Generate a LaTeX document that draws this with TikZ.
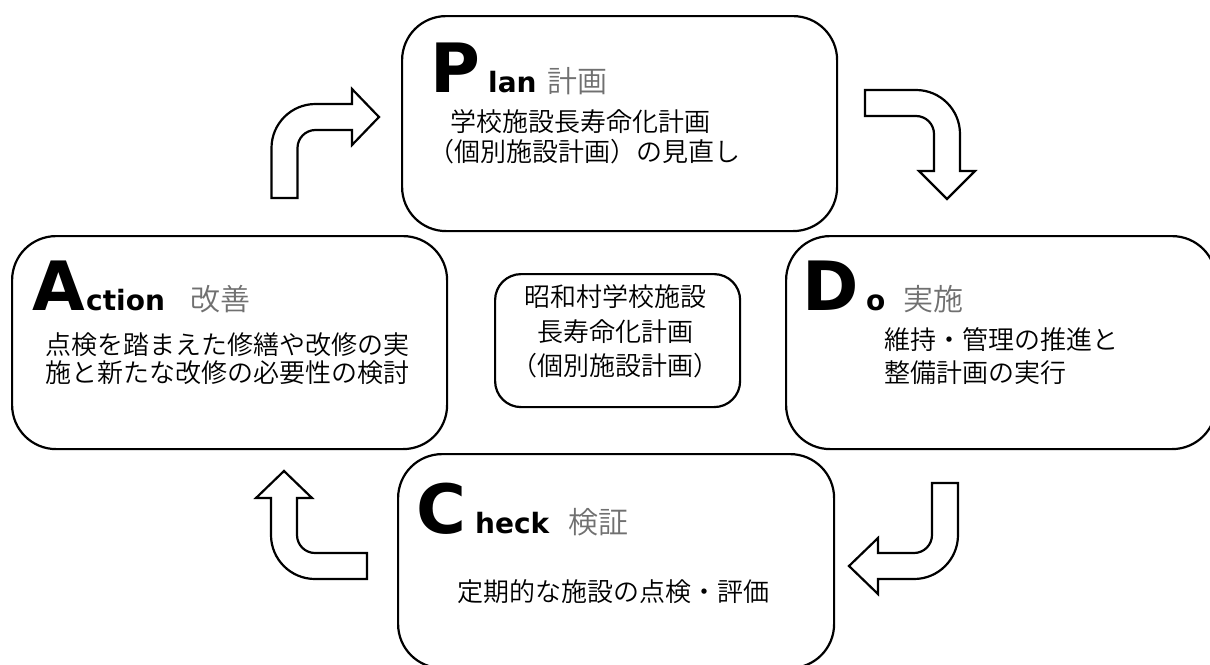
\documentclass[tikz,border=0pt]{standalone}
\usepackage{fontspec}
\newfontfamily\jp{Noto Sans CJK JP}[UprightFont=* DemiLight]
\newfontfamily\lat{DejaVu Sans}
\definecolor{headgray}{HTML}{707070}
\begin{document}
\begin{tikzpicture}[x=1pt,y=-1pt,
  box/.style={draw, line width=2.2pt, rounded corners=44pt, anchor=north west, inner sep=0},
  cbox/.style={draw, line width=2.2pt, rounded corners=26pt, anchor=north west, inner sep=0},
  body/.style={font=\jp\fontsize{26}{26}\selectfont, inner sep=0},
  big/.style={font=\lat\bfseries\fontsize{68}{68}\selectfont, inner sep=0, anchor=base west},
  sub/.style={font=\lat\bfseries\fontsize{28}{28}\selectfont, inner sep=0, anchor=base west},
  ghead/.style={font=\jp\fontsize{30}{30}\selectfont, text=headgray, inner sep=0, anchor=base west},
  arr/.style={draw, line width=2.2pt, fill=white, line join=miter}]
\useasboundingbox (0,0) rectangle (1210,664);

% boxes
\node[box, minimum width=435pt, minimum height=215pt] (plan) at (401,15) {};
\node[box, minimum width=435pt, minimum height=213pt] (act) at (11,235) {};
\node[box, minimum width=430pt, minimum height=213pt] (do) at (785,235) {};
\node[box, minimum width=436pt, minimum height=214pt] (chk) at (397,453) {};
\node[cbox, minimum width=245pt, minimum height=133pt] (ctr) at (494,273) {};

% Plan
\node[big] (pP) at (430,92) {P};
\node[sub] (pS) at (488,92) {lan};
\node[ghead] (pG) at (547,92) {計画};
\node[body] (p1) at (580,122) {学校施設長寿命化計画};
\node[body] (p2) at (584,152) {（個別施設計画）の見直し};

% Action
\node[big] (aA) at (32,310) {A};
\node[sub] (aS) at (86,310) {ction};
\node[ghead] (aG) at (190,310) {改善};
\node[body] (a1) at (227,345) {点検を踏まえた修繕や改修の実};
\node[body] (a2) at (227,373) {施と新たな改修の必要性の検討};

% Do
\node[big] (dD) at (802,310) {D};
\node[sub] (dS) at (866,310) {o};
\node[ghead] (dG) at (903,310) {実施};
\node[body, anchor=west] (d1) at (884,340) {維持・管理の推進と};
\node[body, anchor=west] (d2) at (884,373) {整備計画の実行};

% Check
\node[big] (cC) at (416,533) {C};
\node[sub] (cS) at (475,533) {heck};
\node[ghead] (cG) at (568,533) {検証};
\node[body] (c1) at (613,592) {定期的な施設の点検・評価};

% Center
\node[body] (m1) at (615,297) {昭和村学校施設};
\node[body] (m2) at (615,332) {長寿命化計画};
\node[body] (m3) at (615,366) {（個別施設計画）};

% Arrow A -> P
\draw[arr] (271.5,198) -- (271.5,148) .. controls (271.5,123.7) and (291.2,104) .. (315.5,104)
  -- (352,104) -- (352,89) -- (379,117) -- (352,145) -- (352,130) -- (315.5,130)
  .. controls (305.56,130) and (297.5,138.06) .. (297.5,148) -- (297.5,198) -- cycle;
% Arrow P -> D
\draw[arr] (865,90) -- (916,90) .. controls (940.3,90) and (960,109.7) .. (960,134)
  -- (960,171) -- (975,171) -- (947,199) -- (919,171) -- (934,171) -- (934,134)
  .. controls (934,124.06) and (925.94,116) .. (916,116) -- (865,116) -- cycle;
% Arrow D -> C
\draw[arr] (932,483) -- (958,483) -- (958,535) .. controls (958,559.3) and (938.3,579) .. (914,579)
  -- (878,579) -- (878,594) -- (849,566) -- (878,538) -- (878,553) -- (914,553)
  .. controls (923.94,553) and (932,544.94) .. (932,535) -- cycle;
% Arrow C -> A
\draw[arr] (367,579) -- (315,579) .. controls (290.7,579) and (271,559.3) .. (271,535)
  -- (271,498) -- (256,498) -- (284,471) -- (312,498) -- (297,498) -- (297,535)
  .. controls (297,544.94) and (305.06,553) .. (315,553) -- (367,553) -- cycle;
\end{tikzpicture}
\end{document}
